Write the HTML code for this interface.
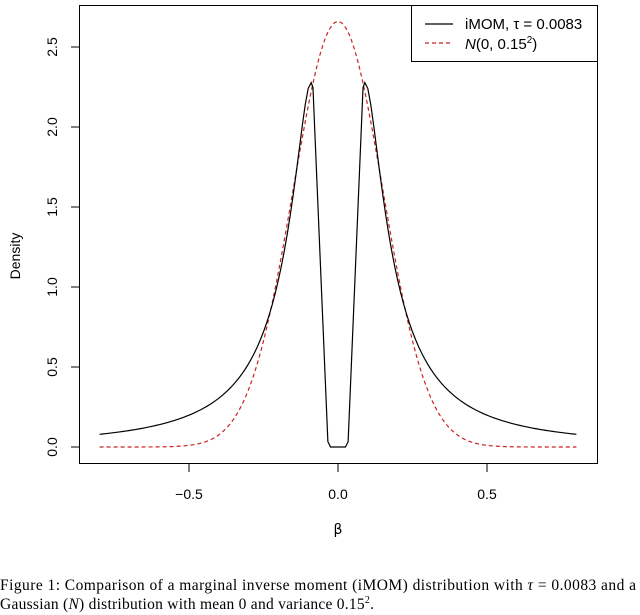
<!DOCTYPE html>
<html><head><meta charset="utf-8"><style>
body{margin:0;background:#fff;width:640px;height:615px;overflow:hidden}
svg{display:block}
.t{font-family:"Liberation Sans",sans-serif;font-size:14px;fill:#000}
.c{font-family:"Liberation Serif",serif;font-size:15.5px;fill:#000}
</style></head><body>
<svg id="s" width="640" height="615" xmlns="http://www.w3.org/2000/svg">
<rect x="79.5" y="5.5" width="518" height="458" fill="none" stroke="#000" stroke-width="1"/>
<g stroke="#000" stroke-width="1">
<line x1="71" x2="79" y1="447" y2="447"/><line x1="71" x2="79" y1="367" y2="367"/>
<line x1="71" x2="79" y1="287" y2="287"/><line x1="71" x2="79" y1="207" y2="207"/>
<line x1="71" x2="79" y1="127" y2="127"/><line x1="71" x2="79" y1="47" y2="47"/>
<line x1="189" x2="189" y1="464" y2="472"/><line x1="338" x2="338" y1="464" y2="472"/><line x1="487" x2="487" y1="464" y2="472"/>
</g>
<g class="t" text-anchor="middle">
<text transform="translate(57,447) rotate(-90)">0.0</text>
<text transform="translate(57,367) rotate(-90)">0.5</text>
<text transform="translate(57,287) rotate(-90)">1.0</text>
<text transform="translate(57,207) rotate(-90)">1.5</text>
<text transform="translate(57,127) rotate(-90)">2.0</text>
<text transform="translate(57,47) rotate(-90)">2.5</text>
<text transform="translate(20,256) rotate(-90)">Density</text>
<text x="189" y="499">−0.5</text><text x="338" y="499">0.0</text><text x="487" y="499">0.5</text>
<text x="338" y="534" style="font-family:'DejaVu Sans',sans-serif;font-size:14px">β</text>
</g>
<path id="n" fill="none" stroke="#cc2222" stroke-width="1.2" stroke-dasharray="4,3"/>
<path id="m" fill="none" stroke="#000" stroke-width="1.2"/>
<rect x="411.5" y="5.5" width="186" height="56" fill="#fff" stroke="#000" stroke-width="1"/>
<line x1="425" x2="453" y1="24" y2="24" stroke="#000" stroke-width="1.2"/>
<line x1="425" x2="453" y1="43" y2="43" stroke="#cc2222" stroke-width="1.2" stroke-dasharray="4,3"/>
<text class="t" x="465" y="29" style="font-size:15px">iMOM, τ = 0.0083</text>
<text class="t" x="465" y="49" style="font-size:15px"><tspan font-style="italic">N</tspan>(0, 0.15<tspan dy="-6" font-size="10">2</tspan><tspan dy="6">)</tspan></text>
<text class="c" x="0" y="590" textLength="636" lengthAdjust="spacing">Figure 1: Comparison of a marginal inverse moment (iMOM) distribution with <tspan font-style="italic">τ</tspan> = 0.0083 and a</text>
<text class="c" x="0" y="609" textLength="374" lengthAdjust="spacing">Gaussian (<tspan font-style="italic">N</tspan>) distribution with mean 0 and variance 0.15<tspan dy="-6" font-size="10">2</tspan><tspan dy="6">.</tspan></text>
</svg>
<script>
function X(x){return 338+x*298}function Y(y){return 447-y*160}
var tau=0.0083,dm="",dn="";
var xs=[];
for(var v=-0.8;v<=-0.089;v+=0.01)xs.push(v);
xs.push(-0.084,-0.034,-0.025,-0.015,0,0.015,0.025,0.034,0.084);
for(var v=0.09;v<=0.8001;v+=0.01)xs.push(v);
xs.sort(function(a,b){return a-b});
xs.forEach(function(x,i){
var f=x===0?0:Math.sqrt(tau)/Math.sqrt(Math.PI)/(x*x)*Math.exp(-tau/(x*x));
dm+=(i?"L":"M")+X(x).toFixed(2)+","+Y(f).toFixed(2);});
for(var i=0;i<200;i++){var x=-0.8+1.6*i/199;
var g=Math.exp(-x*x/(2*0.0225))/(0.15*Math.sqrt(2*Math.PI));
dn+=(i?"L":"M")+X(x).toFixed(2)+","+Y(g).toFixed(2);}
document.getElementById("m").setAttribute("d",dm);
document.getElementById("n").setAttribute("d",dn);
</script>
</body></html>
